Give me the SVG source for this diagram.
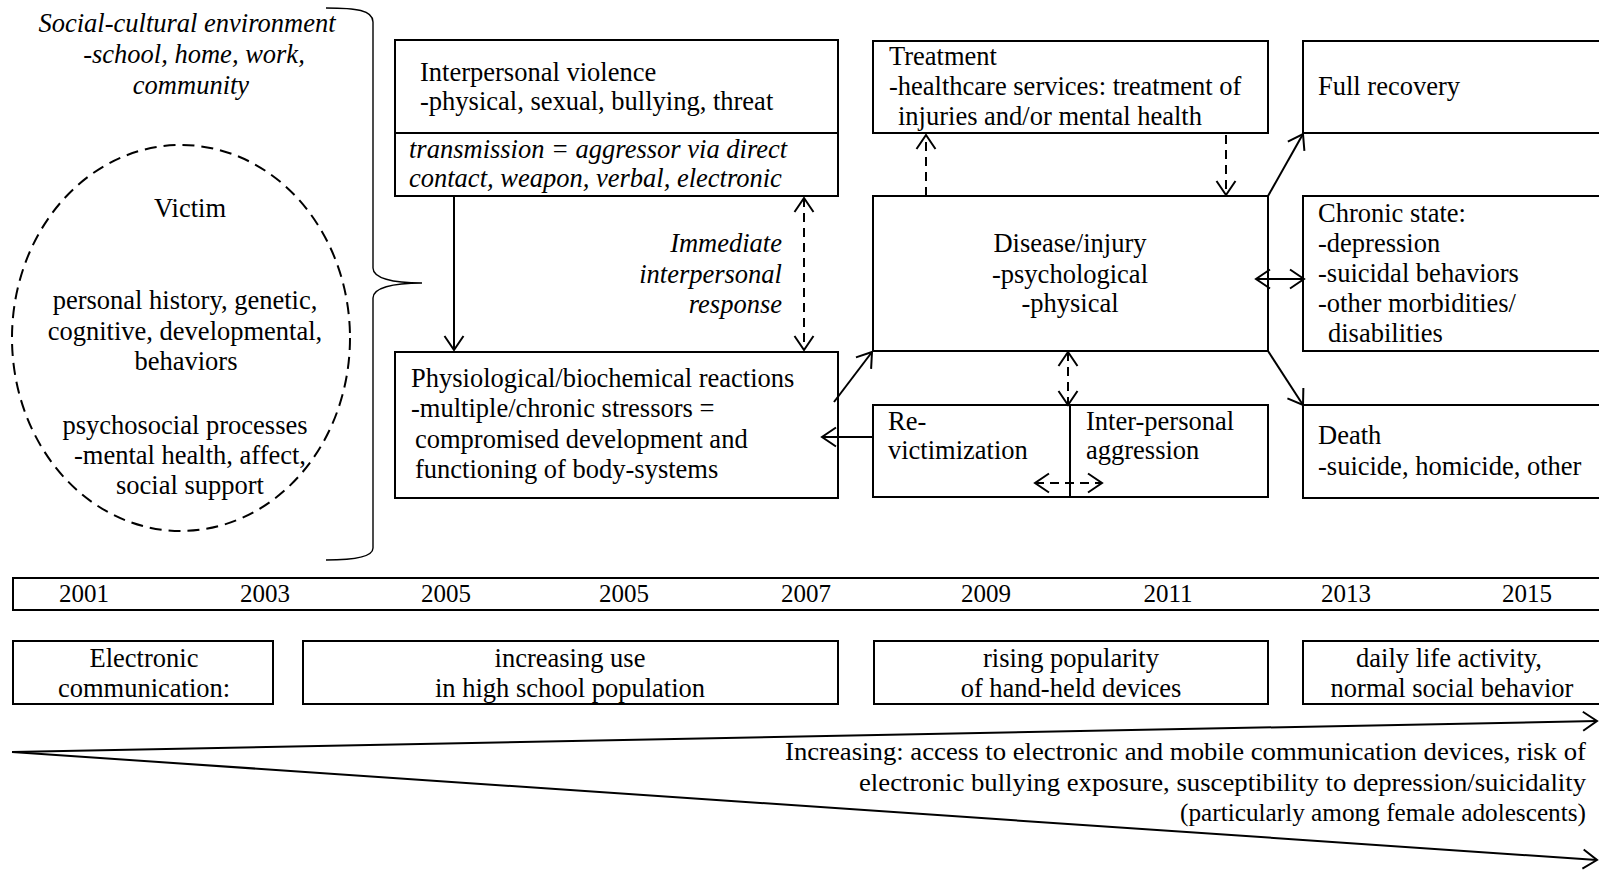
<svg xmlns="http://www.w3.org/2000/svg" width="1599" height="879" viewBox="0 0 1599 879">
<defs>
<style>
text{font-family:"Liberation Serif","Times New Roman",serif;font-size:26.5px;fill:#000}
.it{font-style:italic}
.c{text-anchor:middle}
.e{text-anchor:end}
.box{fill:#fff;stroke:#000;stroke-width:2}
.ln{fill:none;stroke:#000;stroke-width:2}
.dash{stroke-dasharray:9 6}
.yr{font-size:25px;text-anchor:middle}
.ev{font-size:26.5px;text-anchor:middle}
.bt{font-size:26px}
</style>
<marker id="ah" viewBox="-16 -11 18 22" refX="0" refY="0" markerWidth="18" markerHeight="22" markerUnits="userSpaceOnUse" orient="auto-start-reverse">
<path d="M-14,-9.5 L0,0 L-14,9.5" fill="none" stroke="#000" stroke-width="2" stroke-dasharray="none"/>
</marker>
</defs>
<rect width="1599" height="879" fill="#fff"/>

<g id="environment">
<text class="it c" x="187" y="32">Social-cultural environment</text>
<text class="it c" x="194" y="63">-school, home, work,</text>
<text class="it c" x="191" y="94">community</text>
<path class="ln" style="stroke-width:1.4" d="M326,8 C356,8 373,10 373,22 L373,268 C373,278 392,283 422,283 C392,283 373,288 373,298 L373,548 C373,556 356,560 326,560"/>
</g>

<g id="victim">
<ellipse cx="181" cy="338" rx="169" ry="193" fill="none" stroke="#000" stroke-width="2" stroke-dasharray="12 7"/>
<text class="c" x="190" y="217">Victim</text>
<text class="c" x="185" y="309">personal history, genetic,</text>
<text class="c" x="185" y="340">cognitive, developmental,</text>
<text class="c" x="186" y="370">behaviors</text>
<text class="c" x="185" y="434">psychosocial processes</text>
<text class="c" x="190" y="464">-mental health, affect,</text>
<text class="c" x="190" y="494">social support</text>
</g>

<g id="violence">
<rect class="box" x="395" y="40" width="443" height="156"/>
<line class="ln" x1="395" y1="133" x2="838" y2="133"/>
<text x="420" y="81">Interpersonal violence</text>
<text x="420" y="110">-physical, sexual, bullying, threat</text>
<text class="it" x="409" y="158">transmission = aggressor via direct</text>
<text class="it" x="409" y="187">contact, weapon, verbal, electronic</text>
</g>

<g id="physio">
<rect class="box" x="395" y="352" width="443" height="146"/>
<text x="411" y="387">Physiological/biochemical reactions</text>
<text x="411" y="417">-multiple/chronic stressors =</text>
<text x="415" y="448">compromised development and</text>
<text x="415" y="478">functioning of body-systems</text>
</g>

<g id="response-label">
<text class="it e" x="782" y="252">Immediate</text>
<text class="it e" x="782" y="283">interpersonal</text>
<text class="it e" x="782" y="313">response</text>
</g>

<g id="treatment">
<rect class="box" x="873" y="41" width="395" height="92"/>
<text x="889" y="65">Treatment</text>
<text x="889" y="95">-healthcare services: treatment of</text>
<text x="898" y="125">injuries and/or mental health</text>
</g>

<g id="disease">
<rect class="box" x="873" y="196" width="395" height="155"/>
<text class="c" x="1070" y="252">Disease/injury</text>
<text class="c" x="1070" y="283">-psychological</text>
<text class="c" x="1070" y="312">-physical</text>
</g>

<g id="revictimization">
<rect class="box" x="873" y="405" width="395" height="92"/>
<line class="ln" x1="1070" y1="405" x2="1070" y2="497"/>
<text x="888" y="430">Re-</text>
<text x="888" y="459">victimization</text>
<text x="1086" y="430">Inter-personal</text>
<text x="1086" y="459">aggression</text>
</g>

<g id="recovery">
<rect class="box" x="1303" y="41" width="310" height="92"/>
<text x="1318" y="95">Full recovery</text>
</g>

<g id="chronic">
<rect class="box" x="1303" y="196" width="310" height="155"/>
<text x="1318" y="222">Chronic state:</text>
<text x="1318" y="252">-depression</text>
<text x="1318" y="282">-suicidal behaviors</text>
<text x="1318" y="312">-other morbidities/</text>
<text x="1328" y="342">disabilities</text>
</g>

<g id="death">
<rect class="box" x="1303" y="405" width="310" height="93"/>
<text x="1318" y="444">Death</text>
<text x="1318" y="475">-suicide, homicide, other</text>
</g>

<g id="years">
<rect class="box" x="13" y="578" width="1600" height="32"/>
<text class="yr" x="84" y="602">2001</text>
<text class="yr" x="265" y="602">2003</text>
<text class="yr" x="446" y="602">2005</text>
<text class="yr" x="624" y="602">2005</text>
<text class="yr" x="806" y="602">2007</text>
<text class="yr" x="986" y="602">2009</text>
<text class="yr" x="1168" y="602">2011</text>
<text class="yr" x="1346" y="602">2013</text>
<text class="yr" x="1527" y="602">2015</text>
</g>

<g id="event-electronic">
<rect class="box" x="13" y="641" width="260" height="63"/>
<text class="ev" x="144" y="667">Electronic</text>
<text class="ev" x="144" y="697">communication:</text>
</g>

<g id="event-increasing">
<rect class="box" x="303" y="641" width="535" height="63"/>
<text class="ev" x="570" y="667">increasing use</text>
<text class="ev" x="570" y="697">in high school population</text>
</g>

<g id="event-rising">
<rect class="box" x="874" y="641" width="394" height="63"/>
<text class="ev" x="1071" y="667">rising popularity</text>
<text class="ev" x="1071" y="697">of hand-held devices</text>
</g>

<g id="event-daily">
<rect class="box" x="1303" y="641" width="310" height="63"/>
<text class="ev" x="1449" y="667">daily life activity,</text>
<text class="ev" x="1452" y="697">normal social behavior</text>
</g>

<g id="trend">
<line class="ln" x1="12" y1="752" x2="1597" y2="721" marker-end="url(#ah)"/>
<line class="ln" x1="12" y1="752" x2="1597" y2="860" marker-end="url(#ah)"/>
<text class="bt" x="785" y="760" textLength="801" lengthAdjust="spacingAndGlyphs">Increasing: access to electronic and mobile communication devices, risk of</text>
<text class="bt" x="859" y="791" textLength="727" lengthAdjust="spacingAndGlyphs">electronic bullying exposure, susceptibility to depression/suicidality</text>
<text class="bt" x="1180" y="821" textLength="406" lengthAdjust="spacingAndGlyphs">(particularly among female adolescents)</text>
</g>

<g id="connectors">
<line class="ln" x1="454" y1="196" x2="454" y2="350" marker-end="url(#ah)"/>
<line class="ln dash" x1="804" y1="198" x2="804" y2="350" marker-start="url(#ah)" marker-end="url(#ah)"/>
<line class="ln" x1="834" y1="402" x2="872" y2="352" marker-end="url(#ah)"/>
<line class="ln" x1="873" y1="437" x2="822" y2="437" marker-end="url(#ah)"/>
<line class="ln dash" x1="926" y1="196" x2="926" y2="135" marker-end="url(#ah)"/>
<line class="ln dash" x1="1226" y1="135" x2="1226" y2="195" marker-end="url(#ah)"/>
<line class="ln dash" x1="1068" y1="352" x2="1068" y2="405" marker-start="url(#ah)" marker-end="url(#ah)"/>
<line class="ln dash" x1="1035" y1="483" x2="1102" y2="483" marker-start="url(#ah)" marker-end="url(#ah)"/>
<line class="ln" x1="1256" y1="279" x2="1304" y2="279" marker-start="url(#ah)" marker-end="url(#ah)"/>
<line class="ln" x1="1268" y1="196" x2="1303" y2="134" marker-end="url(#ah)"/>
<line class="ln" x1="1268" y1="351" x2="1303" y2="405" marker-end="url(#ah)"/>
</g>
</svg>
